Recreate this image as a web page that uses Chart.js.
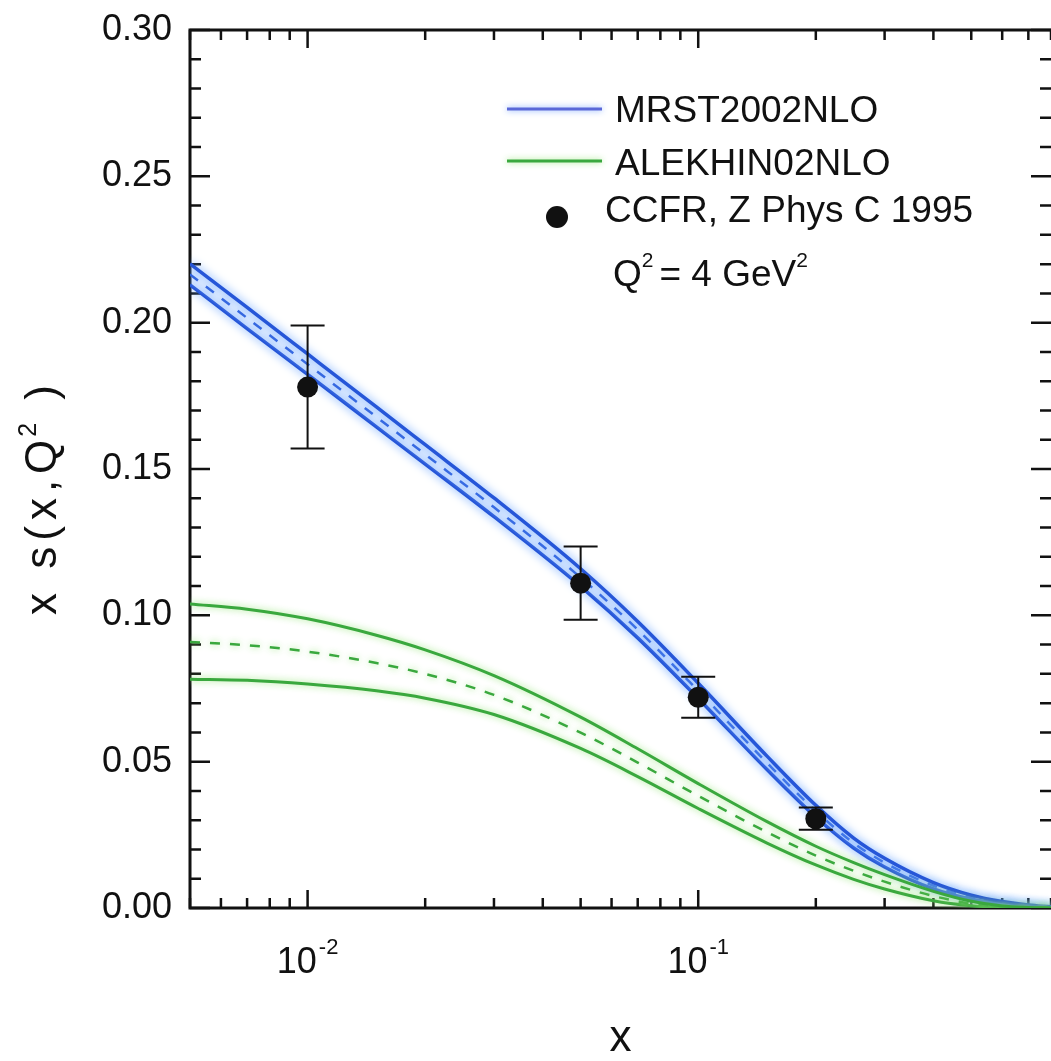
<html>
<head>
    <meta charset="utf-8" />
    <title>x s(x,Q2) at Q2 = 4 GeV2</title>
    <script src="https://cdn.jsdelivr.net/npm/chart.js"></script>
    <style>
        body { margin: 0; background: #fff; }
    </style>
</head>
<body>
<div style="width: 1051px; height: 1061px;">
    <canvas id="strange"></canvas>
</div>

<script>
    // x grid of the calculated curves
    const xGrid = [0.005, 0.007, 0.01, 0.015, 0.02, 0.03, 0.05, 0.07, 0.1, 0.15, 0.2, 0.25, 0.3, 0.4, 0.5, 0.6, 0.7, 0.8];

    // MRST2002NLO: central value and error band
    const mrstCentral = [0.2165, 0.2016, 0.1858, 0.1678, 0.1550, 0.1369, 0.1129, 0.0951, 0.0742, 0.0496, 0.0331, 0.0222, 0.0155, 0.0076, 0.0037, 0.0018, 0.0008, 0.0003];
    const mrstUpper   = [0.2201, 0.2052, 0.1893, 0.1712, 0.1583, 0.1401, 0.1159, 0.0979, 0.0768, 0.0519, 0.0351, 0.0239, 0.0170, 0.0087, 0.0044, 0.0022, 0.0010, 0.0004];
    const mrstLower   = [0.2129, 0.1980, 0.1823, 0.1644, 0.1517, 0.1337, 0.1099, 0.0923, 0.0716, 0.0473, 0.0311, 0.0205, 0.0140, 0.0065, 0.0030, 0.0014, 0.0006, 0.0002];

    // ALEKHIN02NLO: central value and error band
    const alekhinCentral = [0.0909, 0.0898, 0.0876, 0.0837, 0.0800, 0.0728, 0.0599, 0.0497, 0.0383, 0.0259, 0.0179, 0.0127, 0.0090, 0.0041, 0.0015, 0.0004, 0.0001, 0.0];
    const alekhinUpper   = [0.1039, 0.1021, 0.0988, 0.0932, 0.0882, 0.0794, 0.0652, 0.0544, 0.0425, 0.0295, 0.0211, 0.0155, 0.0114, 0.0057, 0.0023, 0.0007, 0.0002, 0.0];
    const alekhinLower   = [0.0782, 0.0778, 0.0765, 0.0742, 0.0717, 0.0661, 0.0545, 0.0449, 0.0340, 0.0222, 0.0147, 0.0098, 0.0065, 0.0025, 0.0008, 0.0002, 0.0, 0.0];

    // CCFR data points
    const ccfrX   = [0.01, 0.05, 0.1, 0.2];
    const ccfrY   = [0.178, 0.111, 0.072, 0.0305];
    const ccfrErr = [0.021, 0.0125, 0.007, 0.0038];

    const yTicks = [0, 0.05, 0.10, 0.15, 0.20, 0.25, 0.30];
    const xTickLabels = [[0.01, '10', '-2'], [0.1, '10', '-1']];

    const FONT = '"Liberation Sans", Arial, sans-serif';
    const BLUE = '#2656d8';
    const GREEN = '#3aa83e';

    const pts = arr => xGrid.map((x, i) => ({x: x, y: arr[i]}));

    // inward ticks on all sides + frame
    const frame = {
        id: 'frame',
        beforeDatasetsDraw(chart) {
            const {ctx, chartArea: a, scales: {x, y}} = chart;
            ctx.save();
            ctx.strokeStyle = '#111';
            ctx.lineWidth = 3;
            ctx.beginPath();
            ctx.moveTo(a.right, a.top);
            ctx.lineTo(a.left, a.top);
            ctx.lineTo(a.left, a.bottom);
            ctx.lineTo(a.right, a.bottom);
            ctx.stroke();

            ctx.lineWidth = 2.5;
            ctx.beginPath();
            for (const dec of [0.001, 0.01, 0.1]) {
                for (let m = 1; m <= 9; m++) {
                    const v = m * dec;
                    if (v < x.min || v > x.max) continue;
                    const px = x.getPixelForValue(v);
                    const len = m === 1 ? 18 : 10;
                    ctx.moveTo(px, a.bottom); ctx.lineTo(px, a.bottom - len);
                    ctx.moveTo(px, a.top); ctx.lineTo(px, a.top + len);
                }
            }
            for (let i = 0; i <= 30; i++) {
                const py = y.getPixelForValue(i / 100);
                const len = i % 5 === 0 ? 20 : 11;
                ctx.moveTo(a.left, py); ctx.lineTo(a.left + len, py);
                ctx.moveTo(a.right, py); ctx.lineTo(a.right - len, py);
            }
            ctx.stroke();
            ctx.restore();
        }
    };

    // soft halo around the curves (as in the scanned figure), error bars under the points
    const glow = {
        id: 'glow',
        beforeDatasetDraw(chart, args) {
            const ds = chart.data.datasets[args.index];
            if (args.index === 0) {
                const {ctx, scales: {x, y}} = chart;
                ctx.save();
                ctx.strokeStyle = '#111';
                ctx.lineWidth = 2;
                ctx.beginPath();
                ccfrX.forEach((xv, i) => {
                    const px = x.getPixelForValue(xv);
                    const top = y.getPixelForValue(ccfrY[i] + ccfrErr[i]);
                    const bot = y.getPixelForValue(ccfrY[i] - ccfrErr[i]);
                    ctx.moveTo(px, top); ctx.lineTo(px, bot);
                    ctx.moveTo(px - 17, top); ctx.lineTo(px + 17, top);
                    ctx.moveTo(px - 17, bot); ctx.lineTo(px + 17, bot);
                });
                ctx.stroke();
                ctx.restore();
            }
            if (!ds.glowColor) return;
            chart.ctx.save();
            chart.ctx.shadowColor = ds.glowColor;
            chart.ctx.shadowBlur = ds.glowBlur || 8;
        },
        afterDatasetDraw(chart, args) {
            if (chart.data.datasets[args.index].glowColor) chart.ctx.restore();
        }
    };

    const texts = {
        id: 'texts',
        afterDraw(chart) {
            const {ctx, scales: {x}} = chart;
            ctx.save();
            ctx.fillStyle = '#111';
            ctx.textAlign = 'left';
            ctx.textBaseline = 'alphabetic';

            // x tick labels 10^-2, 10^-1
            for (const [v, base, exp] of xTickLabels) {
                const px = x.getPixelForValue(v);
                ctx.font = '36px ' + FONT;
                const wb = ctx.measureText(base).width;
                ctx.font = '22px ' + FONT;
                const we = ctx.measureText(exp).width;
                const start = px - (wb + we + 2) / 2;
                ctx.font = '36px ' + FONT;
                ctx.fillText(base, start, 973);
                ctx.font = '22px ' + FONT;
                ctx.fillText(exp, start + wb + 2, 954);
            }

            // y axis title
            ctx.save();
            ctx.translate(56, 615);
            ctx.rotate(-Math.PI / 2);
            ctx.letterSpacing = '6px';
            ctx.font = '44px ' + FONT;
            let cx = 0;
            ctx.fillText('x s(x,Q', cx, 0);
            cx += ctx.measureText('x s(x,Q').width;
            ctx.font = '25px ' + FONT;
            ctx.fillText('2', cx - 3, -20);
            cx += ctx.measureText('2').width + 14;
            ctx.font = '44px ' + FONT;
            ctx.fillText(')', cx, 0);
            ctx.restore();

            // legend
            ctx.lineWidth = 3;
            ctx.save();
            ctx.shadowBlur = 6;
            ctx.shadowColor = 'rgba(110,160,255,0.9)';
            ctx.strokeStyle = '#5a68d8';
            ctx.beginPath(); ctx.moveTo(507, 109); ctx.lineTo(602, 109); ctx.stroke();
            ctx.shadowColor = 'rgba(150,230,120,0.9)';
            ctx.strokeStyle = GREEN;
            ctx.beginPath(); ctx.moveTo(507, 161); ctx.lineTo(602, 161); ctx.stroke();
            ctx.restore();
            ctx.beginPath(); ctx.arc(557, 217, 11, 0, Math.PI * 2); ctx.fill();

            ctx.font = '37px ' + FONT;
            ctx.fillText('MRST2002NLO', 615, 122);
            ctx.fillText('ALEKHIN02NLO', 615, 175);
            ctx.fillText('CCFR, Z Phys C 1995', 605, 222);

            let qx = 613;
            ctx.fillText('Q', qx, 286);
            qx += ctx.measureText('Q').width;
            ctx.font = '21px ' + FONT;
            ctx.fillText('2', qx, 267);
            qx += ctx.measureText('2').width + 6;
            ctx.font = '37px ' + FONT;
            ctx.fillText('= 4 GeV', qx, 286);
            qx += ctx.measureText('= 4 GeV').width;
            ctx.font = '21px ' + FONT;
            ctx.fillText('2', qx, 267);
            ctx.restore();
        }
    };

    const line = (label, data, color, glowColor, dashed, order, width) => ({
        label: label,
        data: data,
        borderColor: color,
        borderWidth: dashed ? 2.5 : width,
        borderDash: dashed ? [10, 10] : [],
        pointRadius: 0,
        cubicInterpolationMode: 'monotone',
        fill: false,
        glowColor: glowColor,
        glowBlur: color === BLUE ? 10 : 7,
        order: order
    });

    const mrstGlow = 'rgba(90,155,255,1)';
    const alekhinGlow = 'rgba(150,230,120,0.9)';

    const mrstUp = line('MRST2002NLO', pts(mrstUpper), BLUE, mrstGlow, false, 2, 3.5);
    mrstUp.fill = '+1';
    mrstUp.backgroundColor = 'rgba(120,170,255,0.14)';

    const chart = new Chart(document.getElementById('strange'), {
        type: 'line',
        data: {
            datasets: [
                {
                    label: 'CCFR, Z Phys C 1995',
                    data: ccfrX.map((x, i) => ({x: x, y: ccfrY[i]})),
                    showLine: false,
                    pointRadius: 10.5,
                    pointBackgroundColor: '#111',
                    pointBorderColor: '#111',
                    pointBorderWidth: 0,
                    order: 0
                },
                line('ALEKHIN02NLO', pts(alekhinUpper), GREEN, alekhinGlow, false, 1, 3),
                line('ALEKHIN02NLO central', pts(alekhinCentral), GREEN, alekhinGlow, true, 1, 3),
                line('ALEKHIN02NLO lower', pts(alekhinLower), GREEN, alekhinGlow, false, 1, 3),
                mrstUp,
                line('MRST2002NLO lower', pts(mrstLower), BLUE, mrstGlow, false, 2, 3.5),
                line('MRST2002NLO central', pts(mrstCentral), BLUE, mrstGlow, true, 2, 3.5)
            ]
        },
        options: {
            responsive: true,
            maintainAspectRatio: false,
            animation: false,
            devicePixelRatio: 1,
            layout: { autoPadding: false, padding: { top: 30, right: 0, left: 0, bottom: 0 } },
            plugins: {
                legend: { display: false },
                tooltip: { enabled: false }
            },
            scales: {
                x: {
                    type: 'logarithmic',
                    min: 0.005,
                    max: 0.8,
                    grid: { display: false, drawTicks: false },
                    border: { display: false },
                    ticks: { display: false },
                    title: {
                        display: true,
                        text: 'x',
                        color: '#111',
                        font: { family: FONT, size: 44, lineHeight: 1 },
                        padding: 0
                    },
                    afterFit: s => { s.height = 153; }
                },
                y: {
                    min: 0,
                    max: 0.3,
                    afterBuildTicks: s => { s.ticks = yTicks.map(v => ({value: v})); },
                    grid: { display: false, drawTicks: false },
                    border: { display: false },
                    ticks: {
                        callback: v => v.toFixed(2),
                        color: '#111',
                        font: { family: FONT, size: 36 },
                        padding: 18
                    },
                    afterFit: s => { s.width = 190; s.paddingTop = 0; s.paddingBottom = 0; }
                }
            }
        },
        plugins: [frame, glow, texts]
    });
</script>
</body>
</html>
